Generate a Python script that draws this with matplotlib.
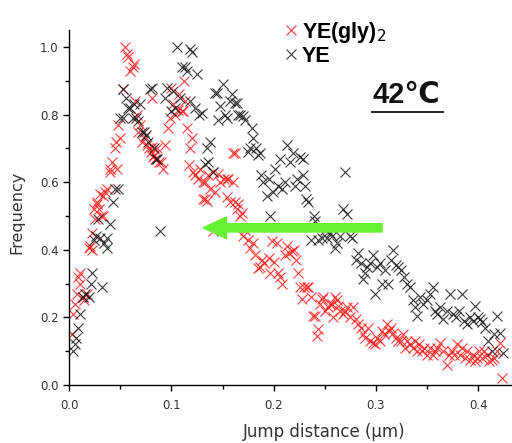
#!/usr/bin/env python3

#~~~~~~~~~~~~~~~~~~~~~~~~~~~~~~~~~~~~~~~~~~~~~~~~~~~~~~~~~~~~~~~~~~~~~~~~~~~~~~~
# Jump distance histogram, YE(gly)2 vs YE at 42 C
#~~~~~~~~~~~~~~~~~~~~~~~~~~~~~~~~~~~~~~~~~~~~~~~~~~~~~~~~~~~~~~~~~~~~~~~~~~~~~~~

import numpy as np
import matplotlib
matplotlib.use('Agg')
import matplotlib.pyplot as plt

plt.rcParams['font.family'] = ['DejaVu Sans']

# YE(gly)2 (red)
gly_x = [0.003, 0.004, 0.006, 0.008, 0.009, 0.011, 0.011, 0.014, 0.015, 0.017,
         0.019, 0.020, 0.022, 0.022, 0.024, 0.025, 0.027, 0.027, 0.029, 0.030,
         0.031, 0.033, 0.033, 0.035, 0.037, 0.040, 0.040, 0.042, 0.045, 0.046,
         0.047, 0.048, 0.050, 0.053, 0.055, 0.057, 0.058, 0.060, 0.062, 0.063,
         0.064, 0.066, 0.067, 0.069, 0.071, 0.074, 0.076, 0.078, 0.080, 0.081,
         0.081, 0.082, 0.083, 0.084, 0.086, 0.088, 0.090, 0.092, 0.094, 0.097,
         0.099, 0.100, 0.102, 0.104, 0.106, 0.107, 0.110, 0.111, 0.112, 0.113,
         0.115, 0.117, 0.118, 0.120, 0.121, 0.123, 0.126, 0.128, 0.131, 0.131,
         0.133, 0.133, 0.135, 0.136, 0.138, 0.141, 0.141, 0.143, 0.146, 0.148,
         0.151, 0.154, 0.154, 0.155, 0.157, 0.160, 0.160, 0.162, 0.162, 0.164,
         0.165, 0.167, 0.169, 0.170, 0.172, 0.175, 0.177, 0.180, 0.182, 0.185,
         0.187, 0.189, 0.191, 0.195, 0.196, 0.198, 0.200, 0.203, 0.204, 0.206,
         0.208, 0.211, 0.213, 0.215, 0.218, 0.220, 0.222, 0.224, 0.226, 0.228,
         0.230, 0.233, 0.234, 0.236, 0.238, 0.240, 0.242, 0.243, 0.245, 0.247,
         0.248, 0.250, 0.253, 0.255, 0.257, 0.258, 0.260, 0.262, 0.263, 0.265,
         0.268, 0.270, 0.272, 0.275, 0.278, 0.280, 0.282, 0.285, 0.287, 0.289,
         0.292, 0.294, 0.297, 0.299, 0.301, 0.304, 0.306, 0.308, 0.311, 0.313,
         0.315, 0.317, 0.320, 0.322, 0.324, 0.326, 0.328, 0.330, 0.333, 0.336,
         0.338, 0.340, 0.342, 0.345, 0.347, 0.350, 0.353, 0.356, 0.358, 0.360,
         0.363, 0.366, 0.369, 0.371, 0.374, 0.376, 0.379, 0.382, 0.384, 0.387,
         0.389, 0.392, 0.395, 0.397, 0.399, 0.401, 0.404, 0.406, 0.409, 0.411,
         0.413, 0.415, 0.418, 0.421, 0.423]
gly_y = [0.15, 0.21, 0.24, 0.27, 0.32, 0.30, 0.33, 0.26, 0.25, 0.27,
         0.405, 0.41, 0.40, 0.45, 0.52, 0.49, 0.535, 0.54, 0.52, 0.565,
         0.50, 0.56, 0.50, 0.57, 0.58, 0.64, 0.63, 0.66, 0.70, 0.72,
         0.64, 0.77, 0.73, 0.875, 1.00, 0.98, 0.97, 0.93, 0.94, 0.95,
         0.84, 0.80, 0.75, 0.77, 0.72, 0.735, 0.71, 0.70, 0.69, 0.705,
         0.85, 0.675, 0.68, 0.67, 0.70, 0.66, 0.66, 0.64, 0.71, 0.76,
         0.79, 0.88, 0.83, 0.80, 0.815, 0.86, 0.81, 0.81, 0.90, 0.84,
         0.76, 0.65, 0.70, 0.73, 0.63, 0.62, 0.61, 0.64, 0.60, 0.55,
         0.60, 0.55, 0.545, 0.62, 0.58, 0.63, 0.455, 0.57, 0.625, 0.60,
         0.61, 0.61, 0.555, 0.61, 0.54, 0.60, 0.685, 0.54, 0.685, 0.52,
         0.535, 0.50, 0.51, 0.44, 0.46, 0.43, 0.405, 0.42, 0.385, 0.345,
         0.35, 0.37, 0.36, 0.375, 0.33, 0.425, 0.365, 0.42, 0.33, 0.32,
         0.30, 0.385, 0.41, 0.39, 0.395, 0.40, 0.37, 0.33, 0.29, 0.255,
         0.29, 0.29, 0.29, 0.26, 0.205, 0.205, 0.145, 0.165, 0.24, 0.255,
         0.26, 0.22, 0.23, 0.24, 0.24, 0.20, 0.26, 0.25, 0.235, 0.22,
         0.21, 0.22, 0.23, 0.20, 0.23, 0.195, 0.18, 0.17, 0.15, 0.14,
         0.17, 0.13, 0.125, 0.12, 0.14, 0.13, 0.16, 0.15, 0.18, 0.16,
         0.17, 0.155, 0.14, 0.13, 0.13, 0.15, 0.11, 0.13, 0.12, 0.11,
         0.13, 0.10, 0.12, 0.10, 0.11, 0.09, 0.11, 0.09, 0.10, 0.11,
         0.125, 0.10, 0.06, 0.09, 0.10, 0.09, 0.12, 0.09, 0.11, 0.08,
         0.10, 0.075, 0.09, 0.07, 0.08, 0.10, 0.08, 0.10, 0.09, 0.07,
         0.075, 0.08, 0.10, 0.125, 0.02]

# YE (black)
ye_x = [0.004, 0.006, 0.007, 0.009, 0.011, 0.014, 0.016, 0.019, 0.021, 0.022,
        0.024, 0.026, 0.028, 0.030, 0.032, 0.034, 0.037, 0.037, 0.040, 0.043,
        0.045, 0.048, 0.050, 0.053, 0.053, 0.056, 0.058, 0.060, 0.062, 0.063,
        0.065, 0.067, 0.069, 0.071, 0.073, 0.075, 0.077, 0.079, 0.081, 0.083,
        0.085, 0.086, 0.089, 0.094, 0.096, 0.100, 0.102, 0.104, 0.105, 0.108,
        0.110, 0.113, 0.115, 0.118, 0.118, 0.120, 0.123, 0.125, 0.127, 0.130,
        0.133, 0.135, 0.136, 0.138, 0.141, 0.143, 0.145, 0.146, 0.148, 0.150,
        0.152, 0.154, 0.157, 0.159, 0.162, 0.164, 0.165, 0.167, 0.170, 0.172,
        0.175, 0.177, 0.179, 0.180, 0.183, 0.185, 0.187, 0.188, 0.190, 0.193,
        0.195, 0.196, 0.199, 0.201, 0.204, 0.206, 0.208, 0.211, 0.213, 0.216,
        0.219, 0.221, 0.223, 0.226, 0.229, 0.229, 0.231, 0.232, 0.234, 0.236,
        0.239, 0.240, 0.243, 0.247, 0.250, 0.252, 0.255, 0.257, 0.260, 0.262,
        0.265, 0.268, 0.270, 0.272, 0.275, 0.277, 0.280, 0.282, 0.285, 0.287,
        0.289, 0.291, 0.294, 0.297, 0.299, 0.301, 0.304, 0.306, 0.309, 0.312,
        0.315, 0.317, 0.320, 0.322, 0.324, 0.327, 0.330, 0.333, 0.336, 0.338,
        0.340, 0.343, 0.346, 0.350, 0.353, 0.356, 0.358, 0.360, 0.363, 0.366,
        0.369, 0.372, 0.375, 0.378, 0.381, 0.384, 0.386, 0.389, 0.392, 0.395,
        0.397, 0.400, 0.402, 0.404, 0.407, 0.410, 0.413, 0.415, 0.418, 0.421,
        0.424]
ye_y = [0.10, 0.12, 0.14, 0.17, 0.21, 0.26, 0.27, 0.26, 0.30, 0.33,
        0.43, 0.44, 0.49, 0.435, 0.29, 0.42, 0.435, 0.405, 0.475, 0.54,
        0.58, 0.58, 0.79, 0.875, 0.79, 0.85, 0.82, 0.82, 0.79, 0.83,
        0.79, 0.78, 0.83, 0.75, 0.75, 0.74, 0.72, 0.875, 0.88, 0.70,
        0.67, 0.67, 0.455, 0.85, 0.88, 0.81, 0.87, 0.82, 1.00, 0.85,
        0.94, 0.94, 0.93, 0.995, 0.84, 0.985, 0.82, 0.92, 0.80, 0.805,
        0.655, 0.70, 0.66, 0.72, 0.63, 0.865, 0.865, 0.785, 0.825, 0.89,
        0.80, 0.79, 0.84, 0.86, 0.835, 0.835, 0.80, 0.80, 0.795, 0.785,
        0.69, 0.70, 0.76, 0.73, 0.70, 0.68, 0.685, 0.62, 0.60, 0.56,
        0.61, 0.50, 0.57, 0.64, 0.59, 0.67, 0.58, 0.60, 0.71, 0.66,
        0.685, 0.59, 0.61, 0.675, 0.62, 0.67, 0.59, 0.55, 0.54, 0.43,
        0.50, 0.485, 0.43, 0.435, 0.46, 0.435, 0.45, 0.44, 0.405, 0.42,
        0.44, 0.52, 0.63, 0.505, 0.44, 0.435, 0.37, 0.39, 0.36, 0.315,
        0.33, 0.35, 0.36, 0.385, 0.27, 0.35, 0.36, 0.30, 0.34, 0.30,
        0.37, 0.40, 0.355, 0.35, 0.34, 0.32, 0.30, 0.29, 0.25, 0.23,
        0.205, 0.26, 0.24, 0.25, 0.27, 0.29, 0.22, 0.21, 0.23, 0.195,
        0.22, 0.27, 0.21, 0.20, 0.22, 0.27, 0.19, 0.18, 0.20, 0.19,
        0.235, 0.20, 0.195, 0.185, 0.17, 0.13, 0.10, 0.15, 0.205, 0.155,
        0.095]

x_ticks = [0.0, 0.1, 0.2, 0.3, 0.4]
y_ticks = [0.0, 0.2, 0.4, 0.6, 0.8, 1.0]


fig = plt.figure(figsize=(5.12, 4.43), dpi=100)
ax = fig.add_axes([0.135, 0.131, 0.865, 0.801])

ax.plot(gly_x, gly_y, ls='none', marker='x', ms=6.5, mew=0.8,
        color='#ff1a1a', alpha=0.85, label=r'YE(gly)$_2$')
ax.plot(ye_x, ye_y, ls='none', marker='x', ms=6.5, mew=0.8,
        color='#1a1a1a', alpha=0.85, label='YE')

ax.set_xlim(0, 0.433)
ax.set_ylim(0, 1.05)

# open box, only left and bottom axes
ax.spines['top'].set_visible(False)
ax.spines['right'].set_visible(False)
ax.spines['left'].set_linewidth(1.0)
ax.spines['bottom'].set_linewidth(1.0)

ax.set_xticks(x_ticks)
ax.set_yticks(y_ticks)
ax.set_xticks(np.arange(0.05, 0.43, 0.1), minor=True)
ax.set_yticks(np.arange(0.1, 1.05, 0.2), minor=True)
ax.xaxis.set_major_formatter(plt.FormatStrFormatter('%.1f'))
ax.yaxis.set_major_formatter(plt.FormatStrFormatter('%.1f'))
ax.tick_params(which='major', direction='out', length=4, width=1.0,
               labelsize=8.5, labelcolor='#333333')
ax.tick_params(axis='x', which='major', pad=6)
ax.tick_params(which='minor', direction='out', length=3, width=1.0)

ax.set_xlabel(u'Jump distance (\u00b5m)', fontsize=12, color='#333333')
ax.set_ylabel('Frequency', fontsize=11.5, color='#333333')
ax.xaxis.set_label_coords(0.575, -0.108)
ax.yaxis.set_label_coords(-0.1, 0.487)

# legend, top middle
leg = ax.legend(loc='upper left', bbox_to_anchor=(0.465, 1.06), frameon=False,
                handlelength=0.5, handletextpad=0.25,
                labelspacing=0.05, borderpad=0.0, markerscale=1.0,
                prop={'family': 'Liberation Sans', 'weight': 'bold', 'size': 15.5})

# temperature label with underline
ax.text(0.685, 0.795, u'42\u2103', transform=ax.transAxes, fontsize=21,
        fontweight='bold', family=['Liberation Sans', 'DejaVu Sans'],
        ha='left', va='baseline', color='#111111')
ax.plot([0.685, 0.845], [0.77, 0.77], transform=ax.transAxes, color='#111111',
        lw=1.3, clip_on=False)

# green arrow pointing to the left
ax.annotate('', xy=(0.131, 0.465), xytext=(0.306, 0.465),
            arrowprops=dict(arrowstyle='simple,head_length=1.4,head_width=1.3,tail_width=0.5',
                            mutation_scale=12, color='#66f233', shrinkA=0, shrinkB=0))

fig.savefig('out.png', dpi=100, facecolor='w')
plt.close()
